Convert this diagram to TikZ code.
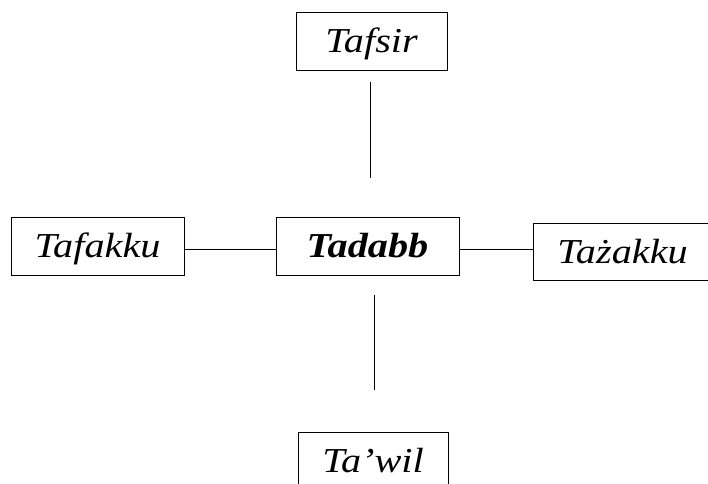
\documentclass[tikz,border=0pt]{standalone}
\usepackage{fontspec}
\setmainfont{Liberation Serif}[FakeStretch=1.15]
\begin{document}
\begin{tikzpicture}[x=1pt,y=-1pt,
  box/.style={draw, line width=0.9pt, inner sep=0pt, minimum height=58pt,
    text height=23pt, text depth=0pt,
    font=\fontsize{35}{42}\selectfont\itshape},
  link/.style={draw, line width=0.9pt}]
\useasboundingbox (0,0) rectangle (708,483);
\node[box, minimum width=151pt] (tafsir) at (371.5,41) {Tafsir};
\node[box, minimum width=173pt] (tafakku) at (97.5,246) {Tafakku};
\node[box, minimum width=183pt, font=\fontsize{35}{42}\selectfont\bfseries\itshape] (tadabb) at (367.5,246) {Tadabb};
\node[box, minimum width=179pt, minimum height=57pt] (tazakku) at (622.5,251.5) {Tażakku};
\node[box, minimum width=150pt] (tawil) at (373,461) {Ta’wil};
\coordinate (t1) at (370,82);
\coordinate (t2) at (370,178);
\coordinate (b1) at (374,295);
\coordinate (b2) at (374,390);
\path[link] (t1) -- (t2);
\path[link] (b1) -- (b2);
\path[link] (tafakku.east |- 0,249) -- (tadabb.west |- 0,249);
\path[link] (tadabb.east |- 0,249) -- (tazakku.west |- 0,249);
\end{tikzpicture}
\end{document}
